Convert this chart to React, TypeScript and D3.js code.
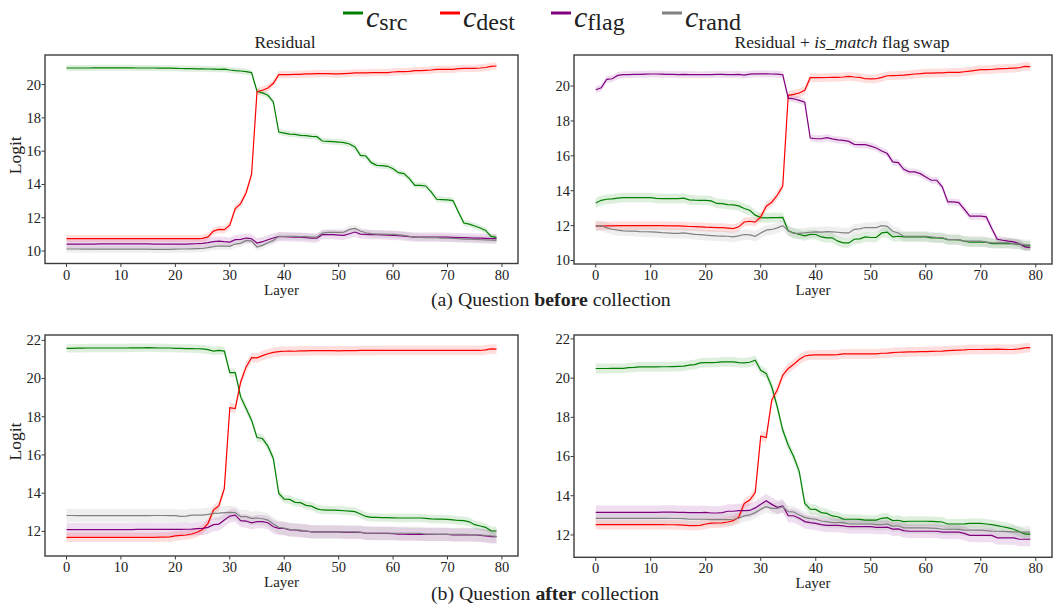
import React from 'react'
import * as d3 from 'd3'

// logits per layer (0..79)
const srcBeforeRes = [21.0, 21.0, 21.0, 21.0, 21.0, 21.01, 21.01, 21.01, 21.01, 21.01,
  21.01, 21.01, 21.01, 21.0, 21.0, 21.0, 21.0, 20.99, 20.99, 20.99,
  20.98, 20.97, 20.96, 20.96, 20.95, 20.95, 20.94, 20.93, 20.92, 20.93,
  20.88, 20.84, 20.82, 20.78, 20.72, 19.6, 19.5, 19.36, 18.96, 17.15,
  17.09, 17.03, 17.01, 16.95, 16.93, 16.89, 16.87, 16.61, 16.59, 16.57,
  16.55, 16.51, 16.43, 16.25, 15.75, 15.71, 15.31, 15.15, 15.13, 15.09,
  14.95, 14.71, 14.65, 14.35, 13.95, 13.95, 13.91, 13.55, 13.11, 13.09,
  13.07, 13.03, 12.34, 11.68, 11.62, 11.5, 11.38, 11.24, 10.88, 10.82]
const destBeforeRes = [10.75, 10.75, 10.74, 10.74, 10.74, 10.74, 10.74, 10.74, 10.74, 10.74,
  10.74, 10.74, 10.74, 10.74, 10.74, 10.74, 10.74, 10.74, 10.74, 10.74,
  10.74, 10.74, 10.74, 10.74, 10.75, 10.76, 10.85, 11.2, 11.3, 11.28,
  11.55, 12.55, 12.85, 13.5, 14.6, 19.58, 19.66, 19.8, 20.08, 20.6,
  20.6, 20.6, 20.62, 20.62, 20.64, 20.65, 20.66, 20.66, 20.66, 20.64,
  20.64, 20.66, 20.68, 20.7, 20.7, 20.7, 20.72, 20.72, 20.72, 20.72,
  20.76, 20.78, 20.78, 20.8, 20.84, 20.84, 20.86, 20.88, 20.92, 20.92,
  20.92, 20.92, 20.96, 20.98, 20.98, 20.98, 21.0, 21.03, 21.1, 21.12]
const flagBeforeRes = [10.42, 10.42, 10.42, 10.42, 10.42, 10.42, 10.43, 10.43, 10.43, 10.43,
  10.43, 10.43, 10.43, 10.43, 10.43, 10.43, 10.42, 10.42, 10.42, 10.42,
  10.42, 10.42, 10.42, 10.43, 10.44, 10.46, 10.5, 10.56, 10.6, 10.56,
  10.54, 10.68, 10.7, 10.78, 10.74, 10.48, 10.56, 10.68, 10.78, 10.86,
  10.86, 10.85, 10.84, 10.83, 10.8, 10.78, 10.78, 10.98, 10.98, 10.98,
  10.96, 10.94, 11.04, 11.14, 11.02, 11.0, 10.98, 10.98, 10.97, 10.96,
  10.94, 10.92, 10.9, 10.86, 10.84, 10.84, 10.84, 10.84, 10.84, 10.84,
  10.83, 10.82, 10.8, 10.8, 10.79, 10.78, 10.77, 10.76, 10.75, 10.74]
const randBeforeRes = [10.12, 10.12, 10.12, 10.11, 10.11, 10.11, 10.11, 10.11, 10.11, 10.11,
  10.11, 10.11, 10.11, 10.11, 10.11, 10.11, 10.1, 10.1, 10.1, 10.1,
  10.11, 10.12, 10.12, 10.13, 10.14, 10.15, 10.2, 10.26, 10.3, 10.29,
  10.28, 10.42, 10.46, 10.64, 10.6, 10.24, 10.34, 10.5, 10.64, 10.88,
  10.88, 10.88, 10.88, 10.87, 10.86, 10.84, 10.84, 11.08, 11.12, 11.12,
  11.12, 11.14, 11.3, 11.36, 11.2, 11.1, 11.04, 11.02, 11.02, 11.0,
  11.0, 10.97, 10.94, 10.88, 10.84, 10.82, 10.8, 10.8, 10.8, 10.78,
  10.78, 10.76, 10.74, 10.72, 10.71, 10.7, 10.68, 10.67, 10.65, 10.64]

const srcBeforeSwap = [13.3, 13.45, 13.51, 13.53, 13.58, 13.6, 13.6, 13.6, 13.6, 13.6,
  13.6, 13.56, 13.55, 13.55, 13.55, 13.55, 13.57, 13.48, 13.46, 13.45,
  13.45, 13.42, 13.27, 13.26, 13.2, 13.19, 13.13, 12.98, 12.88, 12.6,
  12.46, 12.44, 12.46, 12.46, 12.47, 11.7, 11.58, 11.49, 11.41, 11.5,
  11.49, 11.35, 11.3, 11.3, 11.11, 11.01, 11.01, 11.22, 11.24, 11.35,
  11.32, 11.32, 11.58, 11.62, 11.35, 11.39, 11.36, 11.36, 11.36, 11.35,
  11.35, 11.3, 11.3, 11.28, 11.2, 11.2, 11.18, 11.11, 11.05, 11.05,
  11.05, 11.05, 10.97, 10.97, 10.97, 10.97, 10.96, 10.93, 10.84, 10.84]
const destBeforeSwap = [11.98, 11.97, 11.98, 11.99, 12.0, 12.0, 12.0, 12.0, 12.0, 12.0,
  12.0, 12.0, 12.0, 11.99, 11.99, 11.98, 11.97, 11.95, 11.94, 11.93,
  11.91, 11.9, 11.89, 11.88, 11.86, 11.83, 11.93, 12.21, 12.25, 12.2,
  12.5, 13.11, 13.34, 13.74, 14.27, 19.47, 19.52, 19.6, 19.75, 20.48,
  20.48, 20.48, 20.49, 20.5, 20.5, 20.52, 20.55, 20.52, 20.5, 20.42,
  20.41, 20.42, 20.5, 20.59, 20.6, 20.61, 20.63, 20.66, 20.69, 20.71,
  20.74, 20.74, 20.75, 20.76, 20.78, 20.78, 20.78, 20.82, 20.86, 20.9,
  20.94, 20.94, 20.95, 20.98, 21.0, 21.01, 21.03, 21.05, 21.13, 21.11]
const flagBeforeSwap = [19.79, 19.9, 20.38, 20.42, 20.61, 20.65, 20.66, 20.67, 20.67, 20.68,
  20.69, 20.69, 20.68, 20.67, 20.67, 20.66, 20.67, 20.66, 20.65, 20.65,
  20.65, 20.66, 20.67, 20.67, 20.66, 20.66, 20.67, 20.63, 20.68, 20.7,
  20.7, 20.7, 20.69, 20.68, 20.65, 19.31, 19.27, 19.18, 19.08, 17.02,
  16.98, 16.98, 17.04, 16.97, 16.91, 16.89, 16.83, 16.66, 16.64, 16.64,
  16.56, 16.45, 16.28, 16.13, 15.65, 15.61, 15.23, 15.08, 15.08, 14.98,
  14.79, 14.6, 14.6, 14.22, 13.36, 13.36, 13.32, 12.94, 12.54, 12.54,
  12.54, 12.5, 11.83, 11.22, 11.16, 11.11, 11.07, 10.97, 10.78, 10.73]
const randBeforeSwap = [11.98, 12.0, 11.87, 11.79, 11.74, 11.7, 11.69, 11.68, 11.66, 11.65,
  11.64, 11.63, 11.6, 11.58, 11.55, 11.56, 11.58, 11.54, 11.5, 11.48,
  11.45, 11.43, 11.41, 11.4, 11.39, 11.35, 11.41, 11.49, 11.47, 11.39,
  11.58, 11.74, 11.78, 11.87, 12.0, 11.7, 11.55, 11.55, 11.58, 11.62,
  11.64, 11.63, 11.65, 11.64, 11.62, 11.58, 11.58, 11.79, 11.81, 11.89,
  11.89, 11.89, 12.0, 11.96, 11.68, 11.58, 11.39, 11.39, 11.39, 11.39,
  11.39, 11.35, 11.32, 11.32, 11.2, 11.2, 11.2, 11.11, 11.11, 11.11,
  11.11, 11.05, 11.01, 11.01, 11.01, 11.01, 10.97, 10.95, 10.9, 10.9]

const srcAfterRes = [21.58, 21.58, 21.59, 21.59, 21.6, 21.6, 21.6, 21.6, 21.6, 21.6,
  21.6, 21.6, 21.61, 21.61, 21.61, 21.62, 21.61, 21.6, 21.6, 21.6,
  21.58, 21.58, 21.57, 21.57, 21.56, 21.55, 21.51, 21.44, 21.48, 21.44,
  20.31, 20.31, 19.04, 18.43, 17.82, 16.91, 16.86, 16.46, 15.82, 13.99,
  13.69, 13.67, 13.52, 13.5, 13.36, 13.32, 13.18, 13.12, 13.11, 13.11,
  13.1, 13.08, 13.06, 13.03, 12.91, 12.78, 12.73, 12.73, 12.72, 12.72,
  12.71, 12.7, 12.7, 12.7, 12.7, 12.7, 12.68, 12.65, 12.64, 12.64,
  12.63, 12.6, 12.57, 12.56, 12.5, 12.35, 12.28, 12.21, 12.03, 12.02]
const destAfterRes = [11.69, 11.69, 11.69, 11.69, 11.69, 11.69, 11.69, 11.69, 11.69, 11.69,
  11.69, 11.69, 11.69, 11.69, 11.69, 11.69, 11.69, 11.7, 11.7, 11.71,
  11.76, 11.79, 11.81, 11.86, 11.95, 12.1, 12.42, 13.11, 13.34, 14.25,
  18.48, 18.43, 19.82, 20.61, 21.09, 21.08, 21.2, 21.3, 21.37, 21.41,
  21.43, 21.44, 21.43, 21.45, 21.45, 21.46, 21.46, 21.46, 21.46, 21.46,
  21.45, 21.46, 21.46, 21.46, 21.47, 21.47, 21.47, 21.47, 21.48, 21.48,
  21.48, 21.48, 21.48, 21.48, 21.48, 21.48, 21.48, 21.48, 21.48, 21.48,
  21.48, 21.48, 21.48, 21.48, 21.48, 21.48, 21.47, 21.5, 21.55, 21.54]
const flagAfterRes = [12.09, 12.09, 12.09, 12.09, 12.09, 12.09, 12.09, 12.09, 12.09, 12.09,
  12.09, 12.09, 12.09, 12.1, 12.1, 12.1, 12.1, 12.1, 12.1, 12.1,
  12.1, 12.1, 12.11, 12.12, 12.14, 12.16, 12.21, 12.35, 12.38, 12.59,
  12.8, 12.85, 12.56, 12.54, 12.45, 12.51, 12.51, 12.45, 12.24, 12.16,
  12.15, 12.07, 12.07, 12.03, 12.02, 11.97, 11.97, 11.97, 11.97, 11.97,
  11.97, 11.95, 11.95, 11.95, 11.95, 11.9, 11.89, 11.89, 11.89, 11.89,
  11.88, 11.86, 11.85, 11.84, 11.84, 11.84, 11.84, 11.84, 11.84, 11.84,
  11.84, 11.81, 11.81, 11.81, 11.81, 11.81, 11.79, 11.76, 11.72, 11.72]
const randAfterRes = [12.83, 12.83, 12.82, 12.82, 12.82, 12.82, 12.82, 12.82, 12.82, 12.82,
  12.82, 12.82, 12.82, 12.82, 12.82, 12.82, 12.83, 12.83, 12.83, 12.82,
  12.82, 12.78, 12.8, 12.85, 12.85, 12.85, 12.89, 12.94, 12.95, 12.98,
  12.99, 12.98, 12.77, 12.77, 12.68, 12.7, 12.66, 12.59, 12.38, 12.21,
  12.17, 12.1, 12.08, 12.06, 12.02, 11.98, 11.97, 11.97, 11.97, 11.97,
  11.97, 11.97, 11.97, 11.97, 11.96, 11.9, 11.9, 11.9, 11.9, 11.9,
  11.9, 11.9, 11.9, 11.9, 11.9, 11.89, 11.85, 11.85, 11.84, 11.84,
  11.84, 11.84, 11.84, 11.84, 11.83, 11.82, 11.81, 11.79, 11.76, 11.74]

const srcAfterSwap = [20.49, 20.49, 20.49, 20.5, 20.5, 20.5, 20.54, 20.55, 20.57, 20.57,
  20.57, 20.57, 20.58, 20.58, 20.59, 20.6, 20.61, 20.66, 20.69, 20.78,
  20.79, 20.79, 20.8, 20.83, 20.83, 20.83, 20.79, 20.78, 20.81, 20.91,
  20.4, 20.23, 19.56, 18.54, 17.35, 16.58, 15.99, 15.23, 13.61, 13.31,
  13.3, 13.14, 13.1, 12.97, 12.93, 12.81, 12.8, 12.8, 12.79, 12.76,
  12.76, 12.76, 12.85, 12.88, 12.73, 12.75, 12.68, 12.7, 12.7, 12.7,
  12.7, 12.69, 12.68, 12.66, 12.56, 12.56, 12.56, 12.57, 12.59, 12.59,
  12.59, 12.56, 12.53, 12.48, 12.42, 12.36, 12.29, 12.17, 12.05, 12.03]
const destAfterSwap = [12.53, 12.53, 12.53, 12.53, 12.53, 12.53, 12.53, 12.53, 12.53, 12.53,
  12.53, 12.53, 12.53, 12.52, 12.52, 12.51, 12.5, 12.48, 12.48, 12.49,
  12.56, 12.6, 12.61, 12.62, 12.66, 12.73, 12.9, 13.61, 13.78, 14.16,
  17.04, 16.97, 18.88, 19.39, 20.15, 20.49, 20.71, 20.95, 21.13, 21.17,
  21.19, 21.19, 21.19, 21.19, 21.2, 21.24, 21.24, 21.24, 21.24, 21.24,
  21.24, 21.24, 21.27, 21.28, 21.3, 21.32, 21.33, 21.34, 21.34, 21.35,
  21.35, 21.36, 21.37, 21.38, 21.4, 21.42, 21.43, 21.44, 21.46, 21.46,
  21.46, 21.47, 21.47, 21.48, 21.47, 21.46, 21.47, 21.49, 21.54, 21.56]
const flagAfterSwap = [13.15, 13.15, 13.15, 13.15, 13.15, 13.15, 13.15, 13.15, 13.15, 13.15,
  13.15, 13.15, 13.16, 13.16, 13.16, 13.15, 13.15, 13.14, 13.14, 13.14,
  13.15, 13.12, 13.12, 13.14, 13.21, 13.21, 13.24, 13.24, 13.25, 13.38,
  13.56, 13.75, 13.56, 13.41, 13.48, 12.98, 12.98, 12.85, 12.68, 12.63,
  12.59, 12.53, 12.49, 12.49, 12.49, 12.46, 12.42, 12.42, 12.42, 12.42,
  12.42, 12.39, 12.39, 12.4, 12.3, 12.31, 12.22, 12.19, 12.19, 12.19,
  12.19, 12.19, 12.19, 12.14, 12.14, 12.14, 12.14, 12.08, 11.98, 11.98,
  11.98, 11.98, 11.98, 11.85, 11.85, 11.85, 11.85, 11.78, 11.78, 11.78]
const randAfterSwap = [12.85, 12.85, 12.85, 12.85, 12.85, 12.85, 12.85, 12.85, 12.85, 12.85,
  12.85, 12.85, 12.85, 12.85, 12.84, 12.84, 12.83, 12.8, 12.8, 12.8,
  12.8, 12.78, 12.78, 12.78, 12.78, 12.8, 12.85, 12.97, 13.02, 13.14,
  13.31, 13.44, 13.36, 13.36, 13.44, 13.19, 13.17, 13.02, 12.9, 12.83,
  12.8, 12.71, 12.68, 12.63, 12.63, 12.63, 12.56, 12.56, 12.56, 12.56,
  12.56, 12.53, 12.53, 12.56, 12.44, 12.47, 12.36, 12.36, 12.36, 12.36,
  12.36, 12.35, 12.34, 12.29, 12.29, 12.29, 12.28, 12.25, 12.25, 12.25,
  12.25, 12.22, 12.2, 12.19, 12.18, 12.17, 12.16, 12.15, 12.14, 12.14]

// half-width of the shaded band, order: src, dest, flag, rand
const spreadBeforeRes = [0.18, 0.22, 0.28, 0.22]
const spreadBeforeSwap = [0.28, 0.25, 0.2, 0.3]
const spreadAfterRes = [0.22, 0.25, 0.35, 0.35]
const spreadAfterSwap = [0.25, 0.25, 0.35, 0.3]

const seriesKeys = ['src', 'dest', 'flag', 'rand']
const seriesColors = ['green', 'red', 'purple', 'gray']
const yTicksBefore = [10, 12, 14, 16, 18, 20]
const yTicksAfter = [12, 14, 16, 18, 20, 22]
const xTicks = [0, 10, 20, 30, 40, 50, 60, 70, 80]

const FONT = '"Liberation Serif", "DejaVu Serif", serif'
const INK = '#222'
const FRAME = '#3c3c3c'

type PanelProps = {
  id: string
  left: number
  top: number
  width: number
  height: number
  yDomain: [number, number]
  yTicks: number[]
  values: number[][]
  spread: number[]
  ylabel?: boolean
}

function Panel({ id, left, top, width, height, yDomain, yTicks, values, spread, ylabel }: PanelProps) {
  const x = d3.scaleLinear().domain([-3.95, 82.95]).range([left, left + width])
  const y = d3.scaleLinear().domain(yDomain).range([top + height, top])
  const bottom = top + height

  const line = d3.line<number>().x((_, i) => x(i)).y(d => y(d))

  return (
    <g>
      <defs>
        <clipPath id={id}>
          <rect x={left} y={top} width={width} height={height} />
        </clipPath>
      </defs>
      <g clipPath={`url(#${id})`}>
        {values.map((vals, k) => {
          const area = d3.area<number>()
            .x((_, i) => x(i))
            .y0(d => y(d - spread[k]))
            .y1(d => y(d + spread[k]))
          return <path key={'a' + k} d={area(vals) || ''} fill={seriesColors[k]} fillOpacity={0.13} stroke="none" />
        })}
        {values.map((vals, k) => (
          <path key={'l' + k} d={line(vals) || ''} fill="none" stroke={seriesColors[k]} strokeWidth={1.2} />
        ))}
      </g>
      <rect x={left} y={top} width={width} height={height} fill="none" stroke={FRAME} strokeWidth={1.4} />
      {xTicks.map(t => (
        <g key={'x' + t}>
          <line x1={x(t)} x2={x(t)} y1={bottom} y2={bottom + 3.5} stroke={FRAME} strokeWidth={1} />
          <text x={x(t)} y={bottom + 16} textAnchor="middle" fontSize={14.5} fill={INK}>{t}</text>
        </g>
      ))}
      {yTicks.map(t => (
        <g key={'y' + t}>
          <line x1={left - 3.5} x2={left} y1={y(t)} y2={y(t)} stroke={FRAME} strokeWidth={1} />
          <text x={left - 4} y={y(t)} dy="0.34em" textAnchor="end" fontSize={14.5} fill={INK}>{t}</text>
        </g>
      ))}
      <text x={left + width / 2} y={bottom + 31} textAnchor="middle" fontSize={15} fill={INK}>Layer</text>
      {ylabel && (
        <text transform={`translate(21,${top + height / 2 - 4}) rotate(-90)`} textAnchor="middle" fontSize={17.5} fill={INK}>Logit</text>
      )}
    </g>
  )
}

const legendX = [343, 440, 551, 662]
const legendSubs = ['src', 'dest', 'flag', 'rand']

export default function App() {
  const L = { left: 45, width: 473 }
  const R = { left: 574, width: 478 }
  return (
    <svg width={1061} height={609} style={{ position: 'absolute', left: 0, top: 0, background: '#fff' }}
      fontFamily={FONT}>
      <g>
        {seriesKeys.map((k, i) => (
          <g key={k}>
            <line x1={legendX[i]} x2={legendX[i] + 20} y1={13} y2={13} stroke={seriesColors[i]} strokeWidth={3} />
            <text x={legendX[i] + 23} y={27} fill={INK}>
              <tspan fontStyle="italic" fontSize={30}>c</tspan>
              <tspan fontSize={24} dy={3}>{legendSubs[i]}</tspan>
            </text>
          </g>
        ))}
      </g>
      <text x={285} y={48} textAnchor="middle" fontSize={17.5} fill={INK}>Residual</text>
      <text x={842} y={48} textAnchor="middle" fontSize={17.5} fill={INK}>
        Residual + <tspan fontStyle="italic">is_match</tspan> flag swap
      </text>
      <Panel id="p1" left={L.left} width={L.width} top={55} height={208.5} yDomain={[9.25, 21.78]}
        yTicks={yTicksBefore} values={[srcBeforeRes, destBeforeRes, flagBeforeRes, randBeforeRes]}
        spread={spreadBeforeRes} ylabel />
      <Panel id="p2" left={R.left} width={R.width} top={55} height={209} yDomain={[9.8, 21.78]}
        yTicks={yTicksBefore} values={[srcBeforeSwap, destBeforeSwap, flagBeforeSwap, randBeforeSwap]}
        spread={spreadBeforeSwap} />
      <text x={431} y={306} fontSize={19.8} fill={INK}>
        (a) Question <tspan fontWeight="bold">before</tspan> collection
      </text>
      <Panel id="p3" left={L.left} width={L.width} top={335} height={221} yDomain={[10.71, 22.28]}
        yTicks={yTicksAfter} values={[srcAfterRes, destAfterRes, flagAfterRes, randAfterRes]}
        spread={spreadAfterRes} ylabel />
      <Panel id="p4" left={R.left} width={R.width} top={335} height={222.3} yDomain={[10.86, 22.2]}
        yTicks={yTicksAfter} values={[srcAfterSwap, destAfterSwap, flagAfterSwap, randAfterSwap]}
        spread={spreadAfterSwap} />
      <text x={431} y={600} fontSize={19.8} fill={INK}>
        (b) Question <tspan fontWeight="bold">after</tspan> collection
      </text>
    </svg>
  )
}
